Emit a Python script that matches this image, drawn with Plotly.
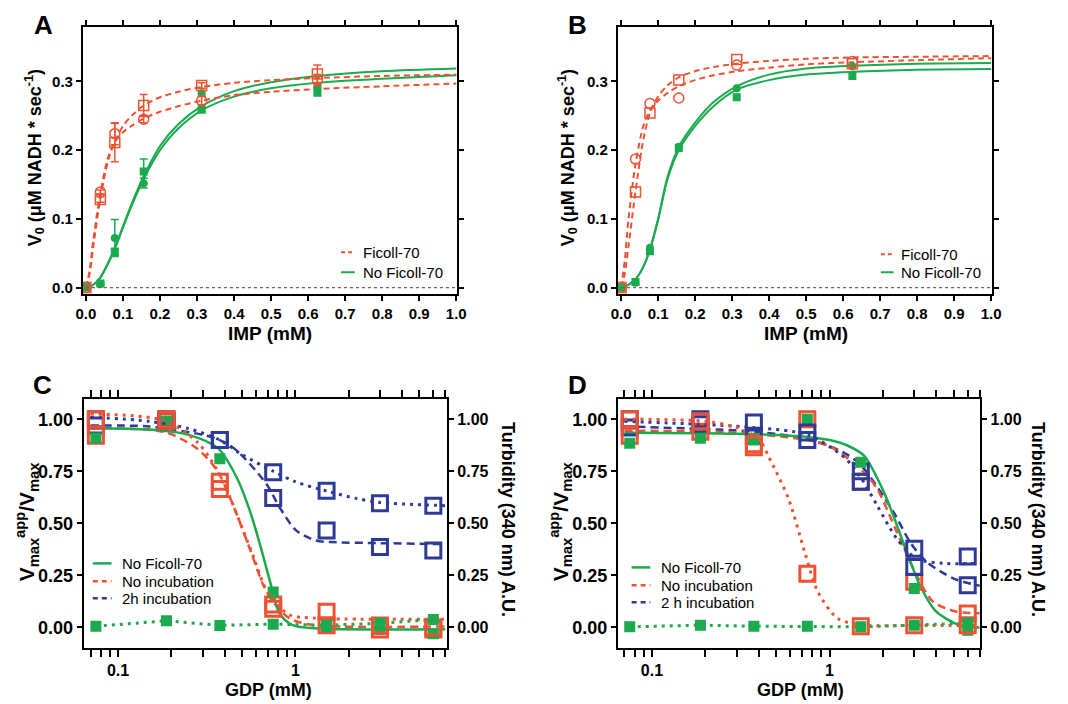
import plotly.graph_objects as go

W, H = 1068, 704
OFF = 8  # page body margin in the browser
RED = '#EF5232'
GREEN = '#1BAA4E'
BLUE = '#2E3A98'
FONT = 'Liberation Sans, Arial, sans-serif'

# ---------------- Panel A / B data (IMP, mM) ----------------
IMP_X = [0.0, 0.039, 0.078, 0.156, 0.3125, 0.625]
A_FIC_SQ = [0.0, 0.128, 0.211, 0.265, 0.294, 0.311]
A_FIC_SQ_ERR = [0.0, 0.004, 0.028, 0.016, 0.004, 0.013]
A_FIC_CI = [0.0, 0.139, 0.224, 0.245, 0.272, 0.302]
A_FIC_CI_ERR = [0.0, 0.003, 0.016, 0.005, 0.006, 0.008]
A_NOF_SQ = [0.0, 0.006, 0.052, 0.169, 0.259, 0.285]
A_NOF_SQ_ERR = [0.0, 0.002, 0.005, 0.018, 0.003, 0.006]
A_NOF_CI = [0.0, 0.005, 0.072, 0.152, 0.283, 0.292]
A_NOF_CI_ERR = [0.0, 0.002, 0.027, 0.007, 0.004, 0.005]

FIT_X_AB = [0, 0.01, 0.02, 0.039, 0.06, 0.078, 0.1, 0.125, 0.156, 0.2, 0.25, 0.3125, 0.4, 0.5, 0.625, 0.8, 1.0]
A_FIT_FIC_SQ = [0, 0.02, 0.06, 0.13, 0.185, 0.212, 0.235, 0.251, 0.265, 0.277, 0.285, 0.292, 0.298, 0.302, 0.305, 0.308, 0.310]
A_FIT_FIC_CI = [0, 0.025, 0.07, 0.138, 0.19, 0.212, 0.226, 0.236, 0.246, 0.256, 0.264, 0.272, 0.280, 0.285, 0.289, 0.293, 0.297]
A_FIT_NOF_CI = [0, 0.001, 0.004, 0.015, 0.036, 0.058, 0.089, 0.124, 0.162, 0.206, 0.238, 0.264, 0.286, 0.299, 0.308, 0.315, 0.319]
A_FIT_NOF_SQ = [0, 0.001, 0.004, 0.014, 0.035, 0.056, 0.087, 0.121, 0.158, 0.200, 0.232, 0.258, 0.278, 0.290, 0.298, 0.304, 0.309]

B_FIC_SQ = [0.0, 0.139, 0.254, 0.302, 0.332, 0.326]
B_FIC_CI = [0.0, 0.187, 0.268, 0.276, 0.324, 0.329]
B_NOF_SQ = [0.0, 0.008, 0.053, 0.203, 0.277, 0.308]
B_NOF_CI = [0.0, 0.007, 0.058, 0.205, 0.290, 0.322]
B_FIT_FIC_SQ = [0, 0.02, 0.06, 0.14, 0.215, 0.254, 0.278, 0.294, 0.306, 0.315, 0.321, 0.326, 0.330, 0.333, 0.335, 0.336, 0.337]
B_FIT_FIC_CI = [0, 0.04, 0.10, 0.18, 0.235, 0.258, 0.272, 0.283, 0.293, 0.302, 0.309, 0.315, 0.320, 0.325, 0.328, 0.331, 0.334]
B_FIT_NOF_CI = [0, 0.001, 0.004, 0.012, 0.030, 0.056, 0.100, 0.160, 0.205, 0.240, 0.270, 0.293, 0.310, 0.319, 0.323, 0.326, 0.327]
B_FIT_NOF_SQ = [0, 0.001, 0.004, 0.012, 0.030, 0.055, 0.098, 0.157, 0.200, 0.235, 0.264, 0.288, 0.302, 0.310, 0.314, 0.317, 0.318]

# ---------------- Panel C / D data (GDP, mM) ----------------
GDP_X = [0.075, 0.1875, 0.375, 0.75, 1.5, 3.0, 6.0]
C_NOF_ACT = [0.91, 0.99, 0.81, 0.17, 0.005, -0.01, -0.03]
C_NOF_TURB = [0.006, 0.032, 0.010, 0.016, 0.011, 0.020, 0.038]
C_NOINC_ACT = [0.92, 0.99, 0.665, 0.11, 0.011, -0.01, -0.01]
C_NOINC_TURB = [1.0, 1.0, 0.70, 0.09, 0.075, 0.01, 0.0]
C_2H_ACT = [0.97, 0.99, 0.90, 0.622, 0.466, 0.386, 0.37]
C_2H_TURB = [1.0, 1.0, 0.90, 0.745, 0.657, 0.596, 0.585]

C_FIT_NOF_X = [0.07, 0.15, 0.25, 0.367, 0.467, 0.554, 0.631, 0.717, 0.815, 0.966, 1.36, 7.0]
C_FIT_NOF_Y = [0.957, 0.95, 0.925, 0.86, 0.72, 0.56, 0.40, 0.226, 0.067, 0.011, -0.005, -0.008]
C_FIT_NOINC_X = [0.07, 0.183, 0.28, 0.362, 0.43, 0.51, 0.579, 0.659, 0.748, 0.926, 1.25, 7.0]
C_FIT_NOINC_Y = [0.957, 0.938, 0.858, 0.754, 0.619, 0.459, 0.332, 0.204, 0.124, 0.044, 0.012, 0.005]
C_FIT_NOINC_T_X = [0.07, 0.18, 0.28, 0.36, 0.43, 0.51, 0.58, 0.66, 0.75, 0.93, 1.25, 7.0]
C_FIT_NOINC_T_Y = [1.025, 0.995, 0.89, 0.76, 0.62, 0.46, 0.34, 0.21, 0.13, 0.06, 0.045, 0.04]
C_FIT_2H_X = [0.07, 0.15, 0.3, 0.375, 0.468, 0.687, 0.815, 1.01, 1.3, 1.6, 3.0, 7.0]
C_FIT_2H_Y = [0.97, 0.965, 0.925, 0.90, 0.849, 0.689, 0.577, 0.466, 0.418, 0.41, 0.405, 0.40]
C_FIT_2H_T_X = [0.07, 0.15, 0.25, 0.375, 0.5, 0.75, 1.0, 1.5, 2.2, 3.0, 7.0]
C_FIT_2H_T_Y = [1.01, 0.99, 0.955, 0.90, 0.83, 0.75, 0.70, 0.655, 0.62, 0.60, 0.585]

D_NOF_ACT = [0.885, 0.909, 0.90, 1.0, 0.793, 0.187, -0.013]
D_NOF_TURB = [0.003, 0.011, 0.006, 0.006, 0.003, 0.011, 0.022]
D_NOINC_ACT = [0.92, 0.94, 0.865, 1.0, 0.70, 0.22, 0.067]
D_NOINC_TURB = [1.0, 0.99, 0.88, 0.258, 0.006, 0.011, 0.011]
D_2H_ACT = [0.96, 0.976, 0.92, 0.90, 0.75, 0.378, 0.203]
D_2H_TURB = [1.0, 1.0, 0.984, 0.936, 0.70, 0.29, 0.341]

D_FIT_NOF_X = [0.07, 0.3, 0.75, 1.0, 1.25, 1.56, 2.02, 2.72, 3.22, 3.98, 5.37, 7.0]
D_FIT_NOF_Y = [0.935, 0.93, 0.915, 0.90, 0.875, 0.826, 0.651, 0.364, 0.204, 0.077, 0.012, 0.0]
D_FIT_NOINC_X = [0.07, 0.3, 0.75, 1.0, 1.5, 1.85, 2.39, 2.96, 3.82, 5.14, 7.0]
D_FIT_NOINC_Y = [0.945, 0.935, 0.90, 0.87, 0.76, 0.667, 0.459, 0.284, 0.124, 0.077, 0.068]
D_FIT_NOINC_T_X = [0.07, 0.2, 0.3, 0.40, 0.455, 0.587, 0.726, 0.859, 1.11, 1.5, 3.0, 7.0]
D_FIT_NOINC_T_Y = [1.0, 0.99, 0.96, 0.906, 0.818, 0.619, 0.36, 0.172, 0.044, 0.012, 0.01, 0.01]
D_FIT_2H_X = [0.07, 0.375, 0.75, 1.2, 1.5, 2.29, 2.84, 3.51, 4.97, 7.0]
D_FIT_2H_Y = [0.965, 0.94, 0.905, 0.84, 0.78, 0.555, 0.41, 0.316, 0.236, 0.2]
D_FIT_2H_T_X = [0.07, 0.375, 0.75, 1.2, 1.5, 1.85, 2.39, 3.09, 4.35, 7.0]
D_FIT_2H_T_Y = [0.99, 0.96, 0.925, 0.82, 0.72, 0.587, 0.427, 0.33, 0.308, 0.308]

LIN_TICKS_X = [0.0, 0.1, 0.2, 0.3, 0.4, 0.5, 0.6, 0.7, 0.8, 0.9, 1.0]
LIN_TICKS_Y = [0.0, 0.1, 0.2, 0.3]
LOG_MAJOR = [0.1, 1]
LOG_MAJOR_TEXT = ['0.1', '1']
LOG_MINOR = [0.07, 0.08, 0.09, 0.2, 0.3, 0.4, 0.5, 0.6, 0.7, 0.8, 0.9, 2, 3, 4, 5, 6, 7]
GDP_TICKS_Y = [0.0, 0.25, 0.5, 0.75, 1.0]

LEGEND_AB = ['Ficoll-70', 'No Ficoll-70']
LEGEND_C = ['No Ficoll-70', 'No incubation', '2h incubation']
LEGEND_D = ['No Ficoll-70', 'No incubation', '2 h incubation']

fig = go.Figure()

DASH_AB = '6px,4px'
DASH_CD = '8px,5px'
DOT = '3px,5px'


def curve(x, y, xa, ya, color, dash, width):
    fig.add_trace(go.Scatter(x=x, y=y, xaxis=xa, yaxis=ya, mode='lines',
                             line=dict(color=color, dash=dash, width=width, shape='spline', smoothing=0.8),
                             showlegend=False, hoverinfo='skip'))


def pts(x, y, xa, ya, symbol, color, size, lw, err=None):
    m = dict(symbol=symbol, color=color, size=size, line=dict(color=color, width=lw))
    e = None
    if err is not None:
        e = dict(type='data', array=err, color=color, thickness=1.5, width=4)
    fig.add_trace(go.Scatter(x=x, y=y, xaxis=xa, yaxis=ya, mode='markers', marker=m,
                             error_y=e, showlegend=False))


# ---- Panel A ----
curve(FIT_X_AB, A_FIT_NOF_CI, 'x', 'y', GREEN, 'solid', 2)
curve(FIT_X_AB, A_FIT_NOF_SQ, 'x', 'y', GREEN, 'solid', 2)
curve(FIT_X_AB, A_FIT_FIC_SQ, 'x', 'y', RED, DASH_AB, 2)
curve(FIT_X_AB, A_FIT_FIC_CI, 'x', 'y', RED, DASH_AB, 2)
pts(IMP_X, A_NOF_SQ, 'x', 'y', 'square', GREEN, 8, 0, A_NOF_SQ_ERR)
pts(IMP_X, A_NOF_CI, 'x', 'y', 'circle', GREEN, 8, 0, A_NOF_CI_ERR)
pts(IMP_X, A_FIC_SQ, 'x', 'y', 'square-open', RED, 10, 1.5, A_FIC_SQ_ERR)
pts(IMP_X, A_FIC_CI, 'x', 'y', 'circle-open', RED, 10, 1.5, A_FIC_CI_ERR)

# ---- Panel B ----
curve(FIT_X_AB, B_FIT_NOF_CI, 'x2', 'y2', GREEN, 'solid', 2)
curve(FIT_X_AB, B_FIT_NOF_SQ, 'x2', 'y2', GREEN, 'solid', 2)
curve(FIT_X_AB, B_FIT_FIC_SQ, 'x2', 'y2', RED, DASH_AB, 2)
curve(FIT_X_AB, B_FIT_FIC_CI, 'x2', 'y2', RED, DASH_AB, 2)
pts(IMP_X, B_NOF_SQ, 'x2', 'y2', 'square', GREEN, 8, 0)
pts(IMP_X, B_NOF_CI, 'x2', 'y2', 'circle', GREEN, 8, 0)
pts(IMP_X, B_FIC_SQ, 'x2', 'y2', 'square-open', RED, 10, 1.5)
pts(IMP_X, B_FIC_CI, 'x2', 'y2', 'circle-open', RED, 10, 1.5)

# ---- Panel C ----
curve(C_FIT_2H_T_X, C_FIT_2H_T_Y, 'x3', 'y5', BLUE, DOT, 3)
curve(C_FIT_2H_X, C_FIT_2H_Y, 'x3', 'y3', BLUE, DASH_CD, 2.5)
curve(C_FIT_NOINC_T_X, C_FIT_NOINC_T_Y, 'x3', 'y5', RED, DOT, 3)
curve(C_FIT_NOINC_X, C_FIT_NOINC_Y, 'x3', 'y3', RED, DASH_CD, 2.5)
curve(C_FIT_NOF_X, C_FIT_NOF_Y, 'x3', 'y3', GREEN, 'solid', 2.5)
fig.add_trace(go.Scatter(x=GDP_X, y=C_NOF_TURB, xaxis='x3', yaxis='y5', mode='lines',
                         line=dict(color=GREEN, dash=DOT, width=3), showlegend=False))
pts(GDP_X, C_2H_TURB, 'x3', 'y5', 'square-open', BLUE, 15, 3)
pts(GDP_X, C_2H_ACT, 'x3', 'y3', 'square-open', BLUE, 15, 3)
pts(GDP_X, C_NOINC_TURB, 'x3', 'y5', 'square-open', RED, 15, 3)
pts(GDP_X, C_NOINC_ACT, 'x3', 'y3', 'square-open', RED, 15, 3)
pts(GDP_X, C_NOF_TURB, 'x3', 'y5', 'square', GREEN, 11, 0)
pts(GDP_X, C_NOF_ACT, 'x3', 'y3', 'square', GREEN, 11, 0)

# ---- Panel D ----
curve(D_FIT_2H_T_X, D_FIT_2H_T_Y, 'x4', 'y6', BLUE, DOT, 3)
curve(D_FIT_2H_X, D_FIT_2H_Y, 'x4', 'y4', BLUE, DASH_CD, 2.5)
curve(D_FIT_NOINC_T_X, D_FIT_NOINC_T_Y, 'x4', 'y6', RED, DOT, 3)
curve(D_FIT_NOINC_X, D_FIT_NOINC_Y, 'x4', 'y4', RED, DASH_CD, 2.5)
curve(D_FIT_NOF_X, D_FIT_NOF_Y, 'x4', 'y4', GREEN, 'solid', 2.5)
fig.add_trace(go.Scatter(x=GDP_X, y=D_NOF_TURB, xaxis='x4', yaxis='y6', mode='lines',
                         line=dict(color=GREEN, dash=DOT, width=3), showlegend=False))
pts(GDP_X, D_2H_TURB, 'x4', 'y6', 'square-open', BLUE, 15, 3)
pts(GDP_X, D_2H_ACT, 'x4', 'y4', 'square-open', BLUE, 15, 3)
pts(GDP_X, D_NOINC_TURB, 'x4', 'y6', 'square-open', RED, 15, 3)
pts(GDP_X, D_NOINC_ACT, 'x4', 'y4', 'square-open', RED, 15, 3)
pts(GDP_X, D_NOF_TURB, 'x4', 'y6', 'square', GREEN, 11, 0)
pts(GDP_X, D_NOF_ACT, 'x4', 'y4', 'square', GREEN, 11, 0)


def fx(p):
    return (p - OFF) / W


def fy(p):
    return 1 - (p - OFF) / H


def base_axis(size):
    return dict(showline=True, linecolor='black', linewidth=2, ticks='outside', ticklen=5, tickwidth=2,
                tickcolor='black', showgrid=False, zeroline=False,
                tickfont=dict(family=FONT, size=size, color='black', weight='bold'))


def lin_x(dom, rng, anchor):
    a = base_axis(15)
    a.update(domain=dom, range=rng, tickvals=LIN_TICKS_X, tickformat='.1f', anchor=anchor, mirror='allticks')
    return a


def lin_y(dom, rng, anchor):
    a = base_axis(15)
    a.update(domain=dom, range=rng, tickvals=LIN_TICKS_Y, tickformat='.1f', anchor=anchor, mirror='allticks')
    return a


def log_x(dom, rng, anchor):
    a = base_axis(16)
    a.update(domain=dom, type='log', range=rng, tickvals=LOG_MAJOR, ticktext=LOG_MAJOR_TEXT, anchor=anchor,
             mirror='allticks', ticklen=7,
             minor=dict(tickvals=LOG_MINOR, ticks='outside', ticklen=4, tickwidth=1.5, tickcolor='black'))
    return a


def gdp_y(dom, anchor, side='left', overlay=None, size=18):
    a = base_axis(size)
    a.update(domain=dom, range=[-0.098, 1.099], tickvals=GDP_TICKS_Y, tickformat='.2f', anchor=anchor, side=side)
    if overlay:
        a['overlaying'] = overlay
    return a


YA = [fy(295), fy(27)]
YC = [fy(649.7), fy(399.7)]
fig.update_layout(
    width=W, height=H, margin=dict(l=0, r=0, t=0, b=0),
    paper_bgcolor='white', plot_bgcolor='white', showlegend=False,
    font=dict(family=FONT, color='black'),
    xaxis=lin_x([fx(77), fx(457)], [-0.008, 1.0027], 'y'),
    yaxis=lin_y(YA, [-0.0097, 0.3794], 'x'),
    xaxis2=lin_x([fx(620), fx(1000)], [-0.0088, 1.0027], 'y2'),
    yaxis2=lin_y(YA, [-0.0097, 0.3794], 'x2'),
    xaxis3=log_x([fx(77.7), fx(446.7)], [-1.194, 0.856], 'y3'),
    yaxis3=gdp_y(YC, 'x3'),
    yaxis5=gdp_y(YC, 'x3', 'right', 'y3', 16),
    xaxis4=log_x([fx(620), fx(988)], [-1.192, 0.849], 'y4'),
    yaxis4=gdp_y(YC, 'x4'),
    yaxis6=gdp_y(YC, 'x4', 'right', 'y4', 16),
)

# dotted zero reference lines in A and B
for xa, ya in [('x', 'y'), ('x2', 'y2')]:
    fig.add_shape(type='line', xref=xa, yref=ya, x0=0, x1=1.0, y0=0, y1=0,
                  line=dict(color='#666666', width=1.2, dash='dot'))

ann = []


def text(px, py, s, size, angle=0, bold=True, anchor='center', yanchor='middle'):
    ann.append(dict(x=fx(px), y=fy(py), xref='paper', yref='paper', text=s, showarrow=False,
                    xanchor=anchor, yanchor=yanchor, textangle=angle,
                    font=dict(family=FONT, size=size, color='black', weight='bold' if bold else 'normal')))


def legend(x0, x1, tx, rows, labels, styles, size):
    for py, lab, (col, dash, wid) in zip(rows, labels, styles):
        fig.add_shape(type='line', xref='paper', yref='paper', x0=fx(x0), x1=fx(x1), y0=fy(py), y1=fy(py),
                      line=dict(color=col, dash=dash, width=wid))
        text(tx, py, lab, size, bold=False, anchor='left')


ST_AB = [(RED, '4px,3px', 2), (GREEN, 'solid', 2)]
ST_CD = [(GREEN, 'solid', 2.5), (RED, '5px,4px', 2.5), (BLUE, '5px,4px', 2.5)]
legend(339, 353, 359, [253, 273], LEGEND_AB, ST_AB, 15)
legend(887, 900, 905, [255, 273], LEGEND_AB, ST_AB, 15)
legend(87, 106, 115, [565, 583, 600], LEGEND_C, ST_CD, 15)
legend(634, 653, 662, [569, 587, 604], LEGEND_D, ST_CD, 15)

text(37, OFF, 'A', 26, yanchor='top')
text(579, OFF, 'B', 26, yanchor='top')
text(36, 386, 'C', 26)
text(579, 386, 'D', 26)
text(267, 334, 'IMP (mM)', 19)
text(811, 334, 'IMP (mM)', 19)
text(265, 692, 'GDP (mM)', 18)
text(805, 692, 'GDP (mM)', 18)
text(28, 158, 'V<sub>0</sub> (μM NADH * sec<sup>-1</sup>)', 18, -90)
text(569, 158, 'V<sub>0</sub> (μM NADH * sec<sup>-1</sup>)', 18, -90)
text(20, 523, 'V<sub>max</sub><sup>app</sup>/V<sub>max</sub>', 21, -90)
text(562, 523, 'V<sub>max</sub><sup>app</sup>/V<sub>max</sub>', 21, -90)
text(509, 521, 'Turbidity (340 nm) A.U.', 18, 90)
text(1047, 521, 'Turbidity (340 nm) A.U.', 18, 90)
fig.update_layout(annotations=ann)

fig.write_html('out.html')
